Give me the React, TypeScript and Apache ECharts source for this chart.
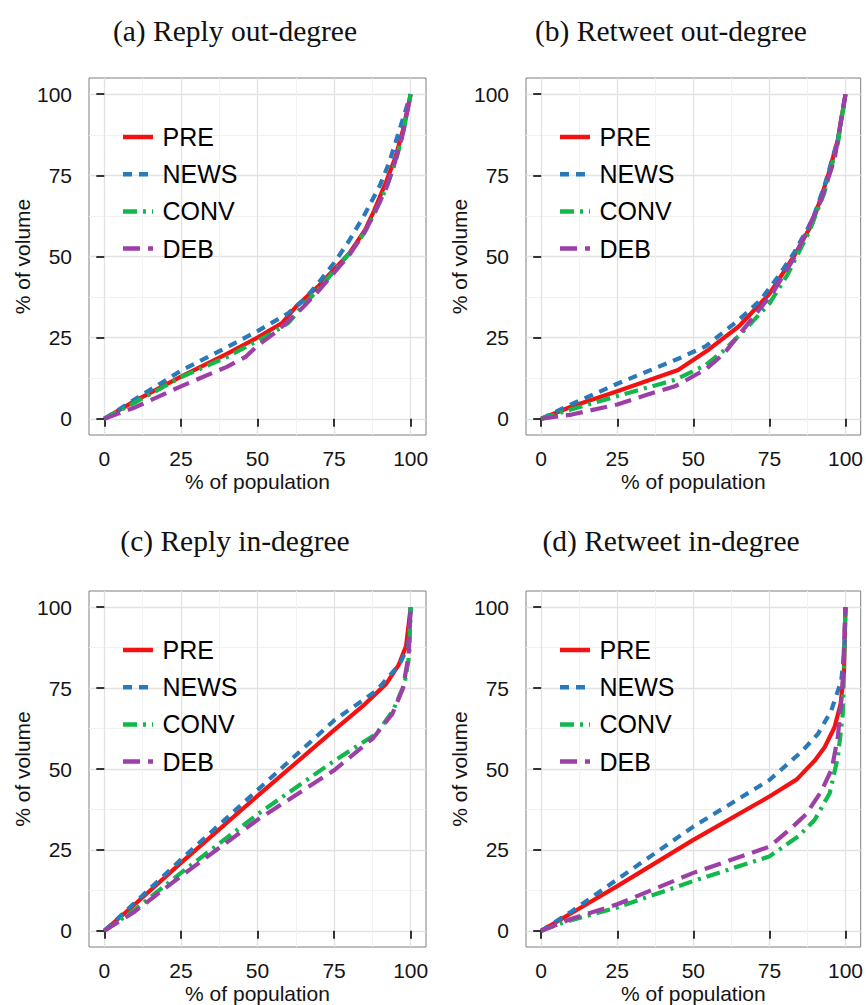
import React, { useEffect, useRef } from 'react';
import * as echarts from 'echarts';

// ---------- data ----------
const SERIES_NAMES = ['PRE', 'NEWS', 'CONV', 'DEB'];
const PANEL_TITLES = [
  '(a) Reply out-degree',
  '(b) Retweet out-degree',
  '(c) Reply in-degree',
  '(d) Retweet in-degree',
];
const X_TITLE = '% of population';
const Y_TITLE = '% of volume';
const MAJOR_TICKS = [0, 25, 50, 75, 100];
const MINOR_TICKS = [12.5, 37.5, 62.5, 87.5];
const AXIS_MIN = -5;
const AXIS_MAX = 105;

// (a) Reply out-degree  [% of population, % of volume]
const A_PRE = [[0, 0], [10, 5.5], [25, 13], [40, 20], [50, 25], [58, 29.5], [63, 35], [70, 41], [75, 46], [80, 51], [85, 58], [88, 64], [92, 73], [95, 80.5], [97.5, 89], [100, 100]];
const A_NEWS = [[0, 0], [10, 6], [25, 14.8], [40, 22], [50, 27], [60, 32.5], [65, 36.5], [70, 42], [75, 48], [80, 55], [85, 63], [90, 72], [93, 79], [96, 88], [100, 100]];
const A_CONV = [[0, 0], [10, 5], [25, 12.8], [40, 19], [50, 24], [55, 26.5], [60, 29.5], [65, 35], [70, 40], [75, 45.5], [80, 51], [85, 57.5], [88, 63], [92, 71], [95, 79], [97.5, 88], [100, 100]];
const A_DEB = [[0, 0], [10, 3.5], [25, 10], [40, 16], [46, 19], [50, 22.5], [55, 26], [60, 30], [65, 34.5], [70, 39.5], [75, 45], [80, 50.5], [85, 57.5], [88, 63], [92, 71], [95, 79.5], [97.5, 88], [100, 100]];

// (b) Retweet out-degree
const B_PRE = [[0, 0], [10, 3.8], [25, 8.5], [45, 15], [55, 21.3], [65, 28.5], [75, 38.5], [83, 50], [89, 60], [94, 74], [97.5, 86], [100, 100]];
const B_NEWS = [[0, 0], [10, 4.5], [25, 10.8], [45, 18.5], [54, 22.3], [65, 30.5], [72, 36.5], [78, 44], [83, 51], [89, 61], [93, 71.5], [97.5, 86], [100, 100]];
const B_CONV = [[0, 0], [10, 2.9], [25, 7], [44, 12], [54, 16.5], [60, 21], [67, 27.5], [75, 35.5], [81, 44.5], [88, 57.5], [93, 69.5], [97.5, 85], [100, 100]];
const B_DEB = [[0, 0], [10, 1.3], [25, 4.4], [35, 7.5], [44, 10], [54, 15.2], [60, 20], [66, 27], [76, 38.7], [83.4, 50], [92, 67.4], [96.4, 80], [100, 100]];

// (c) Reply in-degree
const C_PRE = [[0, 0], [10, 8.2], [25, 21], [50, 41.7], [75, 62], [85, 70], [92, 76.3], [96, 82], [98.5, 88], [100, 100]];
const C_NEWS = [[0, 0], [10, 8.7], [25, 22], [50, 43.5], [75, 65], [88.8, 74.2], [96.4, 82.4], [99.2, 88], [100, 100]];
const C_CONV = [[0, 0], [10, 6.5], [25, 17.9], [50, 36], [75, 52.5], [88.8, 60.9], [94.2, 68], [98, 76.3], [99.5, 85], [100, 100]];
const C_DEB = [[0, 0], [10, 6], [25, 16.9], [50, 34.3], [75, 49.6], [87.7, 59.5], [94, 67], [97.5, 75], [99.3, 85], [100, 100]];

// (d) Retweet in-degree
const D_PRE = [[0, 0], [10, 5.5], [25, 13.8], [50, 28.1], [75, 41.5], [84, 46.8], [90, 52.7], [93.2, 56.8], [96.4, 62.9], [98.4, 70.1], [99.5, 80], [100, 100]];
const D_NEWS = [[0, 0], [10, 6], [25, 15.9], [50, 32.2], [75, 46.6], [85.5, 55.3], [91, 60.9], [95.3, 68], [98.6, 77.2], [99.6, 86], [100, 100]];
const D_CONV = [[0, 0], [7.3, 2.6], [25, 7.2], [50, 15.4], [75, 23], [84.5, 29.2], [89.9, 34.3], [94.8, 42.5], [97.5, 53.7], [99.1, 67], [100, 100]];
const D_DEB = [[0, 0], [9.5, 3.6], [25, 8.2], [50, 17.9], [75, 26], [82.5, 32], [87, 36], [92, 43], [95.5, 50], [97.5, 60], [99, 75], [100, 100]];

const PANEL_DATA = [
  [A_PRE, A_NEWS, A_CONV, A_DEB],
  [B_PRE, B_NEWS, B_CONV, B_DEB],
  [C_PRE, C_NEWS, C_CONV, C_DEB],
  [D_PRE, D_NEWS, D_CONV, D_DEB],
];

// ---------- styles / layout ----------
const COLORS = ['#f31212', '#2a7ab9', '#12b84b', '#9c3fa7'];
const DASHES: any[] = ['solid', [9, 7], [14, 6, 3, 6], [17, 8]];
const SANS = '"Liberation Sans", Arial, Helvetica, sans-serif';
const SERIF = '"Liberation Serif", "Times New Roman", serif';

const GRIDS = [
  { left: 89, top: 78, width: 337, height: 357 },
  { left: 526, top: 78, width: 337, height: 357 },
  { left: 89, top: 591, width: 337, height: 356 },
  { left: 526, top: 591, width: 337, height: 356 },
];
const TITLE_POS = [
  [235, 31],
  [671, 31],
  [235, 541],
  [671, 541],
];

function buildOption() {
  const grid: any[] = [];
  const xAxis: any[] = [];
  const yAxis: any[] = [];
  const series: any[] = [];
  const graphic: any[] = [];

  GRIDS.forEach((g, i) => {
    grid.push({
      ...g,
      show: true,
      borderColor: '#7f7f7f',
      borderWidth: 1,
      backgroundColor: '#ffffff',
      containLabel: false,
    });

    const common = (isX: boolean, major: boolean) => ({
      type: 'value',
      gridIndex: i,
      min: AXIS_MIN,
      max: AXIS_MAX,
      position: isX ? (major ? 'bottom' : 'top') : major ? 'left' : 'right',
      axisLine: { show: false },
      axisTick: {
        show: major,
        customValues: major ? MAJOR_TICKS : MINOR_TICKS,
        length: 8,
        lineStyle: { color: '#333333', width: 2 },
      },
      axisLabel: {
        show: major,
        customValues: major ? MAJOR_TICKS : MINOR_TICKS,
        margin: isX ? 13 : 17,
        fontSize: 21,
        color: '#141414',
        fontFamily: SANS,
      },
      minorTick: { show: false },
      minorSplitLine: { show: false },
      splitLine: {
        show: true,
        lineStyle: { color: major ? '#e2e2e2' : '#f2f2f2', width: major ? 1.3 : 1 },
      },
      name: major ? (isX ? X_TITLE : Y_TITLE) : '',
      nameLocation: 'middle',
      nameGap: isX ? 36 : 52,
      nameTextStyle: { fontSize: 21, color: '#141414', fontFamily: SANS },
    });

    xAxis.push(common(true, true));
    xAxis.push(common(true, false));
    yAxis.push(common(false, true));
    yAxis.push(common(false, false));

    PANEL_DATA[i].forEach((data, j) => {
      series.push({
        type: 'line',
        name: SERIES_NAMES[j],
        xAxisIndex: 2 * i,
        yAxisIndex: 2 * i,
        data,
        showSymbol: false,
        symbol: 'none',
        silent: true,
        z: 2 + j,
        lineStyle: {
          color: COLORS[j],
          width: 4.2,
          type: DASHES[j],
          cap: 'butt',
          join: 'round',
        },
        itemStyle: { color: COLORS[j] },
      });

      // legend key
      const ly = g.top + 59 + 37.2 * j;
      graphic.push({
        type: 'line',
        silent: true,
        shape: { x1: g.left + 34, y1: ly, x2: g.left + 64, y2: ly },
        style: {
          stroke: COLORS[j],
          lineWidth: 4.5,
          lineDash: DASHES[j] === 'solid' ? null : DASHES[j],
          lineCap: 'butt',
        },
        z: 100,
      });
      graphic.push({
        type: 'text',
        silent: true,
        x: g.left + 73.5,
        y: ly,
        style: {
          text: SERIES_NAMES[j],
          fontSize: 25,
          fontFamily: SANS,
          fill: '#000000',
          verticalAlign: 'middle',
          align: 'left',
        },
        z: 100,
      });
    });

    graphic.push({
      type: 'text',
      silent: true,
      x: TITLE_POS[i][0],
      y: TITLE_POS[i][1],
      style: {
        text: PANEL_TITLES[i],
        fontSize: 29.5,
        fontFamily: SERIF,
        fill: '#111111',
        align: 'center',
        verticalAlign: 'middle',
      },
      z: 100,
    });
  });

  return {
    animation: false,
    backgroundColor: '#ffffff',
    grid,
    xAxis,
    yAxis,
    series,
    graphic,
  };
}

export default function App() {
  const ref = useRef<HTMLDivElement | null>(null);
  useEffect(() => {
    if (!ref.current) return;
    const chart = echarts.init(ref.current, undefined, { renderer: 'svg' });
    chart.setOption(buildOption() as any);
    return () => chart.dispose();
  }, []);
  return (
    <div
      ref={ref}
      style={{ position: 'absolute', left: 0, top: 0, width: 866, height: 1005 }}
    />
  );
}
